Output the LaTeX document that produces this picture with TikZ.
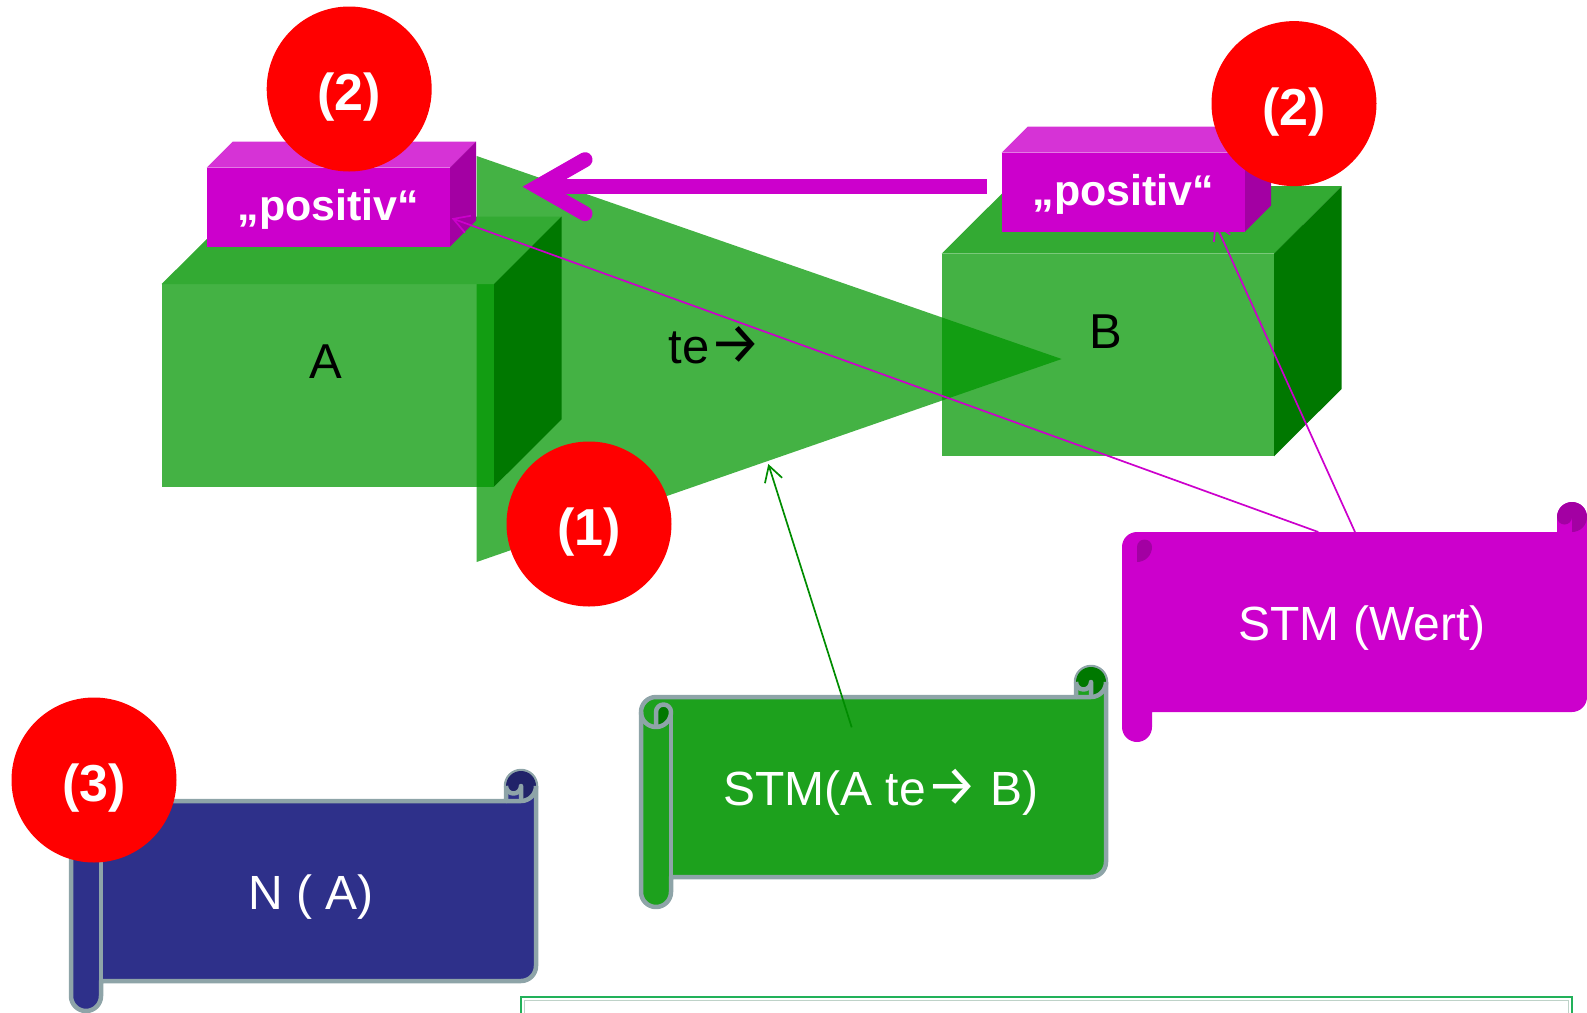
\documentclass[tikz,border=0pt]{standalone}
\usepackage{fontspec}
\setmainfont{Liberation Sans}
\newfontfamily\arrowfont{Fira Sans}
\usetikzlibrary{arrows.meta,calc}
\definecolor{cubefront}{RGB}{0,150,0}
\definecolor{cubetop}{RGB}{51,170,51}
\definecolor{cubeside}{RGB}{0,120,0}
\definecolor{purp}{RGB}{204,0,204}
\definecolor{purptop}{RGB}{214,51,214}
\definecolor{purpside}{RGB}{163,0,163}
\definecolor{redc}{RGB}{255,0,0}
\definecolor{scrgreen}{RGB}{29,161,29}
\definecolor{scrgreendk}{RGB}{0,120,0}
\definecolor{scrblue}{RGB}{46,48,138}
\definecolor{scrbluedk}{RGB}{33,35,105}
\definecolor{scrpurpdk}{RGB}{163,0,163}
\definecolor{scrline}{RGB}{142,164,168}
\definecolor{conngreen}{RGB}{0,140,0}
\definecolor{framegreen}{RGB}{34,177,90}
\definecolor{frameinner}{RGB}{190,210,200}

\newcommand{\rarr}{{\arrowfont\fontsize{29pt}{30pt}\selectfont →}}

\newcommand{\scrollshape}[5]{%
\begin{scope}[shift={(#1,#2)}]
 \path[fill=#3,#5] (0,45) arc[start angle=180,end angle=90,radius=7.5pt] -- (435,30) -- (435,15)
   arc[start angle=180,end angle=0,radius=7.5pt] -- (465,195)
   arc[start angle=0,end angle=-90,radius=7.5pt] -- (30,210) -- (30,225)
   arc[start angle=0,end angle=-180,radius=7.5pt] -- cycle;
 \fill[#4] (15,60) arc[start angle=-90,end angle=0,radius=7.5pt] arc[start angle=0,end angle=180,radius=3.75pt] -- cycle;
 \fill[#4] (450,30) arc[start angle=-90,end angle=180,radius=7.5pt] arc[start angle=180,end angle=360,radius=3.75pt] -- cycle;
 \path[#5] (435,30) -- (450,30) arc[start angle=-90,end angle=0,radius=7.5pt];
 \path[#5] (450,30) -- (450,15) arc[start angle=0,end angle=-180,radius=3.75pt];
 \path[#5] (15,60) -- (15,45) arc[start angle=180,end angle=0,radius=3.75pt] arc[start angle=0,end angle=-180,radius=7.5pt];
 \path[#5] (30,45) -- (30,210);
\end{scope}}

\begin{document}
\begin{tikzpicture}[x=0.5pt,y=-0.5pt,
  cubeface/.style={fill=cubefront,fill opacity=0.735,inner sep=0,outer sep=0,
     minimum width=166.15pt,minimum height=101.35pt},
  pfront/.style={fill=purp,text=white,inner sep=0,outer sep=0,
     minimum width=121.65pt,minimum height=39.5pt,
     font=\bfseries\fontsize{21.5pt}{24pt}\selectfont,text height=13.5pt,text depth=0pt},
  redcirc/.style={circle,fill=redc,text=white,inner sep=0,outer sep=0,minimum size=82.5pt,
     font=\bfseries\fontsize{26pt}{30pt}\selectfont,text height=21.5pt,text depth=0pt},
  scrtext/.style={text=white,inner sep=0,font=\fontsize{24pt}{28pt}\selectfont,
     text height=18pt,text depth=0pt},
  lbl/.style={anchor=base,inner sep=0,font=\fontsize{24.5pt}{28pt}\selectfont},
  thinpurp/.style={draw=purp,line width=0.85pt,-{Straight Barb[length=7.8pt,width=9pt]}},
  thingreen/.style={draw=conngreen,line width=0.85pt,-{Straight Barb[length=7.8pt,width=9pt]}},
  bigarrow/.style={draw=purp,line width=7.5pt},
  scrollline/.style={draw=scrline,line width=2.25pt,line join=round}
]
\useasboundingbox (0,0) rectangle (1587,1013);
\clip (0,0) rectangle (1587,1013);

% named connector ends
\coordinate (w1) at (1318.3,532);
\coordinate (w2) at (1355,532);
\coordinate (g1) at (851.7,727.3);
\coordinate (trib) at (768.3,464);
\coordinate (tipA) at (451.7,218.3);
\coordinate (tipB) at (1214.9,222.5);
\coordinate (arrS) at (986.7,186.7);
\coordinate (arrT) at (537.7,186.7);

% triangle (te->)
\fill[cubefront,fill opacity=0.735] (476.7,156) -- (1061.7,359) -- (476.7,562) -- cycle;

% cube A
\node[cubeface] (cubeA) at (327.85,385.35) {};
\fill[cubetop] (cubeA.north west) -- (cubeA.north east) -- ++(67.7,-67.5) -- ++(-332.3,0) -- cycle;
\fill[cubeside] (cubeA.north east) -- ++(67.7,-67.5) -- ++(0,202.7) -- (cubeA.south east) -- cycle;
% cube B
\node[cubeface] (cubeB) at (1107.85,355) {};
\fill[cubetop] (cubeB.north west) -- (cubeB.north east) -- ++(67.7,-67.5) -- ++(-332.3,0) -- cycle;
\fill[cubeside] (cubeB.north east) -- ++(67.7,-67.5) -- ++(0,202.7) -- (cubeB.south east) -- cycle;

\node[lbl] (labA) at (326.3,378.3) {A};
\node[lbl] (labB) at (1106.3,348.3) {B};
\node[lbl] (labte) at (715,363.3) {te\rarr};

% connector to positiv B (behind the box)
\draw[thinpurp] (w2) -- (tipB);

% positiv boxes
\node[pfront] (pA) at (328.35,207.2) {„positiv“};
\fill[purptop] (pA.north west) -- ++(26,-26) -- ++(243.3,0) -- (pA.north east) -- cycle;
\fill[purpside] (pA.north east) -- ++(26,-26) -- ++(0,79) -- (pA.south east) -- cycle;
\node[pfront] (pB) at (1123.35,192.2) {„positiv“};
\fill[purptop] (pB.north west) -- ++(26,-26) -- ++(243.3,0) -- (pB.north east) -- cycle;
\fill[purpside] (pB.north east) -- ++(26,-26) -- ++(0,79) -- (pB.south east) -- cycle;

% big arrow from positiv B to positiv A
\draw[bigarrow] (arrS) -- ($(arrT)+(8,0)$);
\draw[bigarrow,line cap=round,line join=miter] ($(arrT)+(47.3,-27)$) -- (arrT) -- ($(arrT)+(47.3,27)$);

% connector to positiv A
\draw[thinpurp] (w1) -- (tipA);

% red markers (2)
\node[redcirc] (c2a) at (349.2,89) {(2)};
\node[redcirc] (c2b) at (1294,103.6) {(2)};

% scrolls
\scrollshape{1122}{502}{purp}{scrpurpdk}{draw=none}
\node[scrtext] (stmwert) at (1362,622) {STM (Wert)};
\scrollshape{641}{667}{scrgreen}{scrgreendk}{scrollline}
\node[scrtext] (stmab) at (881,787) {STM(A te{\arrowfont\fontsize{28.5pt}{30pt}\selectfont →}\ B)};
\scrollshape{71}{771}{scrblue}{scrbluedk}{scrollline}
\node[scrtext] (na) at (311,891) {N ( A)};

% red markers (1), (3)
\node[redcirc] (c1) at (589,524) {(1)};
\node[redcirc] (c3) at (94,780) {(3)};

% green connector
\draw[thingreen] (g1) -- (trib);

% bottom frame
\draw[framegreen,line width=1.25pt] (521,997) rectangle (1572,1040);
\draw[frameinner,line width=0.5pt] (524.5,1000.5) rectangle (1568.5,1040);
\end{tikzpicture}
\end{document}
